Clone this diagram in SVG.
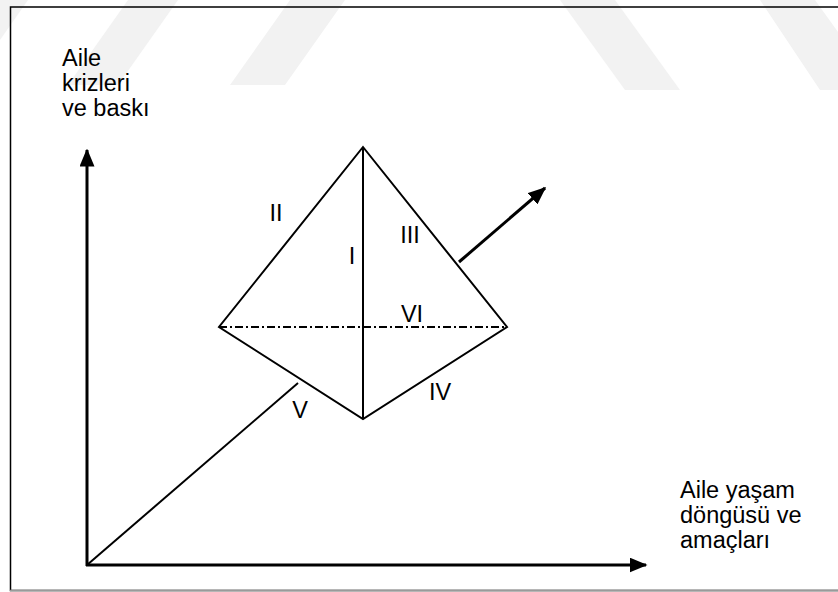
<svg xmlns="http://www.w3.org/2000/svg" width="838" height="592" viewBox="0 0 838 592">
<style>
text{font-family:"Liberation Sans",Arial,sans-serif;font-size:23.5px;fill:#000}
.c{text-anchor:middle}
.ax{stroke:#000;stroke-width:3;fill:none}
.ln{stroke:#000;stroke-width:2;fill:none}
.wm{fill:#f2f2f2}
</style>
<defs>
<marker id="ah" markerWidth="6" markerHeight="5" refX="5.5" refY="2.5" orient="auto" markerUnits="strokeWidth">
<path d="M0,0 L6,2.5 L0,5 Z" fill="#000"/>
</marker>
</defs>
<rect width="838" height="592" fill="#fff"/>
<g id="watermark">
<polygon class="wm" points="0,0 28,0 0,40"/>
<polygon class="wm" points="128,0 178,0 118,85 68,85"/>
<polygon class="wm" points="290,0 345,0 285,85 230,85"/>
<polygon class="wm" points="560,0 615,0 680,90 625,90"/>
<polygon class="wm" points="760,0 815,0 838,32 838,90 820,90"/>
</g>
<g id="frame">
<path d="M840,7 L10.5,7 L10.5,590.5 L840,590.5" fill="none" stroke="#000" stroke-width="1.5"/>
<path d="M10,590.5 L840,590.5" stroke="#9a9a9a" stroke-width="1.5"/>
</g>
<g id="connectors">
<line id="y-axis" class="ax" x1="87" y1="566" x2="87" y2="150" marker-end="url(#ah)"/>
<line id="x-axis" class="ax" x1="86" y1="565" x2="646" y2="565" marker-end="url(#ah)"/>
<line id="diag" class="ln" x1="87" y1="565" x2="298" y2="383"/>
<line id="out-arrow" class="ax" x1="459" y1="262" x2="545" y2="188" marker-end="url(#ah)"/>
</g>
<g id="pyramid">
<polygon class="ln" points="363,147 507,327 363,419 219,327" stroke-linejoin="miter"/>
<line class="ln" x1="363" y1="147" x2="363" y2="419"/>
<line class="ln" x1="219" y1="327" x2="507" y2="327" stroke-dasharray="8,3,2,3"/>
</g>
<g id="labels">
<text class="c" x="276" y="221">II</text>
<text class="c" x="352" y="264">I</text>
<text class="c" x="410" y="243">III</text>
<text class="c" x="412" y="322">VI</text>
<text class="c" x="440" y="400">IV</text>
<text class="c" x="300" y="418">V</text>
</g>
<g id="y-label">
<text x="62" y="66">Aile</text>
<text x="62" y="91">krizleri</text>
<text x="62" y="116">ve baskı</text>
</g>
<g id="x-label">
<text x="680" y="498">Aile yaşam</text>
<text x="680" y="523">döngüsü ve</text>
<text x="680" y="548">amaçları</text>
</g>
</svg>
